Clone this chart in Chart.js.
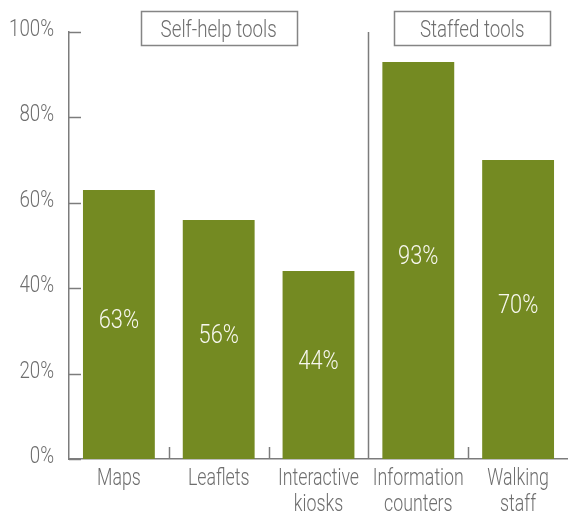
<!DOCTYPE html>
<html>
<head>
<meta charset="utf-8">
<script src="https://cdn.jsdelivr.net/npm/chart.js@4"></script>
<style>
  html, body { margin: 0; padding: 0; background: #fff; }
  #wrap { width: 568px; height: 515px; }
</style>
</head>
<body>
<div id="wrap"><canvas id="chart"></canvas></div>
<script>
const categories = [['Maps'], ['Leaflets'], ['Interactive', 'kiosks'], ['Information', 'counters'], ['Walking', 'staff']]
const values = [63, 56, 44, 93, 70]
const yTicks = [0, 20, 40, 60, 80, 100]
const groups = [
  { label: 'Self-help tools', from: 0, to: 2 },
  { label: 'Staffed tools', from: 3, to: 4 }
]

const FONT = 'Roboto, "Open Sans", sans-serif'
const TEXT = '#6e6e6e'
const AXIS = '#7c7c7c'
const BAR = '#748a22'

// condensed look: no narrow font is installed, so squeeze the text horizontally
function drawText(ctx, text, x, y, font, color, align, sx) {
  ctx.save()
  ctx.font = font
  ctx.fillStyle = color
  ctx.textAlign = align
  ctx.textBaseline = 'alphabetic'
  ctx.translate(x, y)
  ctx.scale(sx, 1)
  ctx.fillText(text, 0, 0)
  ctx.restore()
}

const decorations = {
  id: 'decorations',
  afterDraw(chart) {
    const { ctx, chartArea, scales: { x, y } } = chart
    ctx.save()
    ctx.strokeStyle = AXIS
    ctx.lineWidth = 1.5

    // y ticks point into the plot
    yTicks.forEach(v => {
      const py = Math.round(y.getPixelForValue(v)) + 0.5
      ctx.beginPath()
      ctx.moveTo(chartArea.left, py)
      ctx.lineTo(chartArea.left + 12, py)
      ctx.stroke()
      drawText(ctx, v + '%', chartArea.left - 15, py + 3, '300 24px ' + FONT, TEXT, 'right', 0.78)
    })

    // category boundary ticks, full line between the two groups
    for (let i = 1; i < categories.length; i++) {
      const px = Math.round((x.getPixelForValue(i - 1) + x.getPixelForValue(i)) / 2) + 0.5
      const isSplit = groups.some(g => g.from === i)
      ctx.beginPath()
      ctx.moveTo(px, chartArea.bottom)
      ctx.lineTo(px, isSplit ? chartArea.top : chartArea.bottom - 12)
      ctx.stroke()
    }

    // category labels
    categories.forEach((lines, i) => {
      const px = x.getPixelForValue(i)
      lines.forEach((line, j) => {
        drawText(ctx, line, px, chartArea.bottom + 26 + j * 26, '300 24px ' + FONT, TEXT, 'center', 0.74)
      })
    })

    // group header boxes
    groups.forEach((g, k) => {
      const cx = (x.getPixelForValue(g.from) + x.getPixelForValue(g.to)) / 2 + (k ? 4 : 0)
      const w = 156, h = 34, top = 11
      ctx.strokeStyle = '#858585'
      ctx.lineWidth = 1.5
      ctx.strokeRect(Math.round(cx - w / 2) + 0.5, top + 0.5, w, h)
      drawText(ctx, g.label, cx, top + 26, '300 24px ' + FONT, TEXT, 'center', 0.78)
    })

    // value labels inside bars
    chart.getDatasetMeta(0).data.forEach((bar, i) => {
      const cy = (bar.y + bar.base) / 2 + 3.5
      drawText(ctx, values[i] + '%', bar.x, cy, '300 26px ' + FONT, '#f7f7ee', 'center', 0.84)
    })
    ctx.restore()
  }
}

new Chart(document.getElementById('chart'), {
  type: 'bar',
  data: {
    labels: categories,
    datasets: [{
      data: values,
      backgroundColor: BAR,
      categoryPercentage: 1,
      barPercentage: 0.72
    }]
  },
  options: {
    responsive: true,
    maintainAspectRatio: false,
    animation: false,
    layout: { padding: { top: 32, right: 0, left: 0, bottom: 0 } },
    plugins: {
      legend: { display: false },
      tooltip: { enabled: false }
    },
    scales: {
      x: {
        grid: { display: false, drawTicks: false },
        border: { display: true, color: AXIS, width: 1.5 },
        ticks: { display: false },
        afterFit: (scale) => { scale.height = 56 }
      },
      y: {
        min: 0,
        max: 100,
        afterBuildTicks: (scale) => { scale.ticks = yTicks.map(v => ({ value: v })) },
        grid: { display: false, drawTicks: false },
        border: { display: true, color: AXIS, width: 1.5 },
        ticks: { display: false },
        afterFit: (scale) => { scale.width = 69 }
      }
    }
  },
  plugins: [decorations]
})
</script>
</body>
</html>
